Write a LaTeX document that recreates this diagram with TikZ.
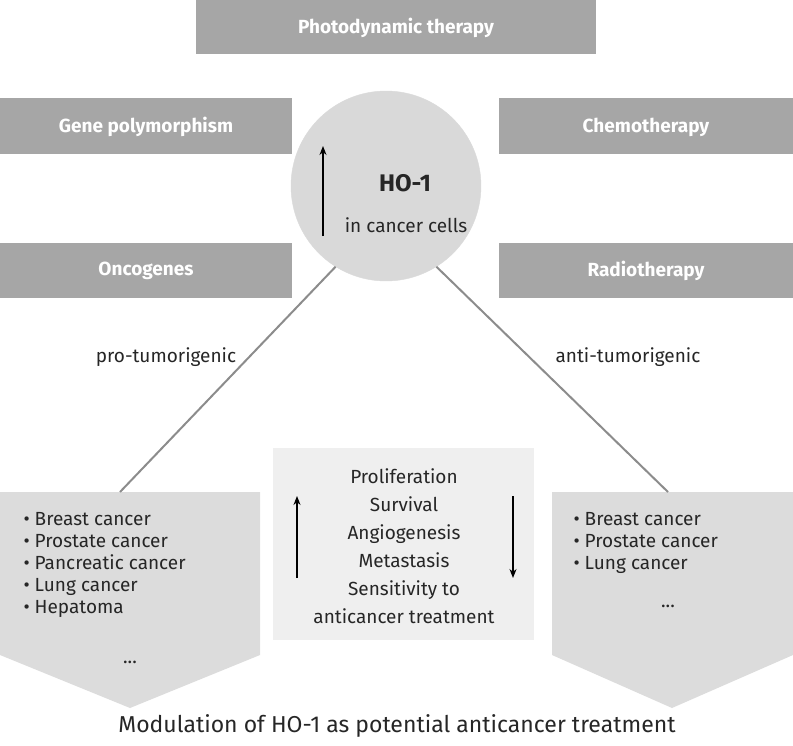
\documentclass[tikz,border=0pt]{standalone}
\usepackage{fontspec}
\setmainfont{Fira Sans}
\usetikzlibrary{arrows.meta}
\definecolor{hdr}{HTML}{A6A6A6}
\definecolor{circ}{HTML}{D9D9D9}
\definecolor{pent}{HTML}{DCDCDC}
\definecolor{cbox}{HTML}{EFEFEF}
\tikzset{
 hbox/.style={fill=hdr,draw=none,text=white,font=\fontsize{19}{22}\selectfont\bfseries},
 txt/.style={font=\fontsize{19}{22}\selectfont,text=black!85},
 arr/.style={-{Stealth[length=9pt,width=7pt]},line width=1.3pt},
 conn/.style={draw=black!45,line width=2pt}
}
\begin{document}
\begin{tikzpicture}[x=1pt,y=-1pt]
\useasboundingbox (0,0) rectangle (793,745);
\fill[hdr] (196,0) rectangle (596,54); \node[hbox] (pdt) at (396,28) {Photodynamic therapy};
\fill[hdr] (0,98) rectangle (292,154); \node[hbox] (gp) at (146,127) {Gene polymorphism};
\fill[hdr] (499,98) rectangle (793,154); \node[hbox] (ch) at (646,127) {Chemotherapy};
\fill[hdr] (0,243) rectangle (292,298); \node[hbox] (on) at (146,271) {Oncogenes};
\fill[hdr] (499,243) rectangle (793,298); \node[hbox] (rt) at (646,271) {Radiotherapy};
\fill[pent] (0,492) -- (260,492) -- (260,655) -- (130,708) -- (0,655) -- cycle;
\fill[pent] (552,492) -- (793,492) -- (793,655) -- (672,708) -- (552,655) -- cycle;
\fill[cbox] (273,448) rectangle (534,640);
\coordinate (lt) at (120,492); \coordinate (rtp) at (668,492);
\node[circle,fill=circ,draw=black!15,minimum size=190pt] (c) at (386,186) {};
\draw[conn] (c.-122) -- (lt);
\draw[conn] (c.-58) -- (rtp);
\node[font=\fontsize{24}{28}\selectfont\bfseries,text=black!85] (ho) at (405,183) {HO-1};
\node[txt] (icc) at (406,225) {in cancer cells};
\coordinate (ua) at (323,236); \coordinate (ub) at (323,146);
\draw[arr] (ua) -- (ub);
\node[txt] (pro) at (166,357) {pro-tumorigenic};
\node[txt] (anti) at (628,357) {anti-tumorigenic};
\node[txt,align=left,anchor=north west] (ll) at (20,509) {\textbullet\ Breast cancer\\\textbullet\ Prostate cancer\\\textbullet\ Pancreatic cancer\\\textbullet\ Lung cancer\\\textbullet\ Hepatoma};
\node[txt] (ld) at (130,662) {...};
\node[txt,align=left,anchor=north west] (rl) at (570,509) {\textbullet\ Breast cancer\\\textbullet\ Prostate cancer\\\textbullet\ Lung cancer};
\node[txt] (rd) at (668,606) {...};
\node[txt,align=center,font=\fontsize{19}{28}\selectfont] (mid) at (404,546) {Proliferation\\Survival\\Angiogenesis\\Metastasis\\Sensitivity to\\anticancer treatment};
\coordinate (a1) at (297,578); \coordinate (a2) at (297,496);
\coordinate (b1) at (513,496); \coordinate (b2) at (513,578);
\draw[arr] (a1) -- (a2);
\draw[arr] (b1) -- (b2);
\node[txt,font=\fontsize{23}{26}\selectfont] (cap) at (397,726) {Modulation of HO-1 as potential anticancer treatment};
\end{tikzpicture}
\end{document}
